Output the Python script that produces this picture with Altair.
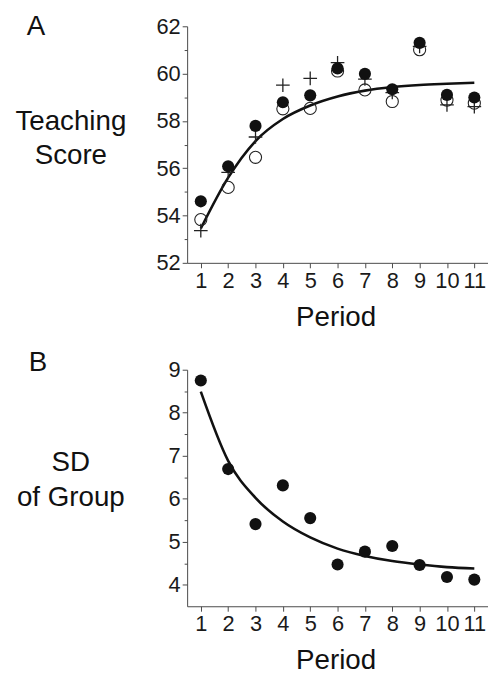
import altair as alt
import pandas as pd

# ---------------- data ----------------
periods = [1, 2, 3, 4, 5, 6, 7, 8, 9, 10, 11]

score_filled = [54.60, 56.08, 57.79, 58.79, 59.08, 60.22, 59.99, 59.34, 61.30, 59.10, 58.99]
score_open = [53.83, 55.19, 56.46, 58.51, 58.53, 60.11, 59.31, 58.82, 61.01, 58.88, 58.75]
score_plus = [53.36, 55.82, 57.32, 59.51, 59.80, 60.46, 59.77, 59.20, 61.15, 58.68, 58.60]
score_fit = [53.45, 55.60, 57.15, 58.08, 58.65, 59.03, 59.28, 59.43, 59.52, 59.57, 59.61]

sd_group = [8.75, 6.69, 5.41, 6.31, 5.55, 4.47, 4.77, 4.90, 4.46, 4.18, 4.12]
sd_fit = [8.49, 6.88, 6.02, 5.47, 5.10, 4.84, 4.67, 4.55, 4.47, 4.41, 4.38]

score_ticks = [52, 54, 56, 58, 60, 62]
score_minor = [53, 55, 57, 59, 61]
sd_ticks = [4, 5, 6, 7, 8, 9]
sd_minor = [4.5, 5.5, 6.5, 7.5, 8.5]

letter_a = ["A"]
letter_b = ["B"]
title_a = ["Teaching", "Score"]
title_b = ["SD", "of Group"]
x_title = "Period"

FONT = "Liberation Sans"
W, H = 304, 239
INK = "#111111"
AXIS_GRAY = "#4a4a4a"
LABEL_SIZE = 22
PLUS_PATH = "M-1,0L1,0M0,-1L0,1"

df_a = pd.DataFrame({
    "period": periods,
    "filled": score_filled,
    "open": score_open,
    "plus": score_plus,
    "fit": score_fit,
})
df_b = pd.DataFrame({"period": periods, "sd": sd_group, "fit": sd_fit})


def x_enc():
    return alt.X(
        "period:Q",
        scale=alt.Scale(domain=[0.5, 11.5], nice=False, zero=False),
        axis=alt.Axis(
            values=periods, format="d", orient="bottom",
            title=x_title, titleX=150, titleY=63,
            titleAlign="center", titleBaseline="alphabetic",
            labelFontSize=LABEL_SIZE, labelFont=FONT,
            labelFlush=False, tickSize=5, labelPadding=3, grid=False,
        ),
    )


def y_main(field, domain, ticks, title, title_y):
    return alt.Y(
        f"{field}:Q",
        scale=alt.Scale(domain=domain, nice=False, zero=False),
        axis=alt.Axis(
            values=ticks, orient="left", format="d",
            title=title, titleAngle=0, titleAlign="center",
            titleBaseline="alphabetic", titleX=-118, titleY=title_y,
            labelFontSize=LABEL_SIZE, labelFont=FONT,
            titleLineHeight=35, tickSize=5, labelPadding=2, grid=False,
        ),
    )


def y_minor(field, domain, minor):
    return alt.Y(
        f"{field}:Q",
        scale=alt.Scale(domain=domain, nice=False, zero=False),
        axis=alt.Axis(
            values=minor, orient="left", labels=False, domain=False,
            tickSize=3, title=None, grid=False,
        ),
    )


def letter_layer(letter, dx, dy):
    return alt.Chart(pd.DataFrame({"letter": letter})).mark_text(
        align="left", baseline="alphabetic", fontSize=28, font=FONT, color=INK
    ).encode(text="letter:N", x=alt.value(dx), y=alt.value(dy))


# ---------------- panel A ----------------
dom_a = [52, 62]
line_a = alt.Chart(df_a).mark_line(
    color=INK, strokeWidth=2.6, interpolate="monotone"
).encode(x=x_enc(), y=y_minor("fit", dom_a, score_minor))

plus_a = alt.Chart(df_a).mark_point(
    shape=PLUS_PATH, size=190, filled=False, stroke="#222222", strokeWidth=1.3, opacity=1
).encode(x=x_enc(), y=y_main("plus", dom_a, score_ticks, title_a, 104))

open_a = alt.Chart(df_a).mark_point(
    shape="circle", size=150, filled=False, stroke="#222222", strokeWidth=1.1, opacity=1
).encode(x=x_enc(), y=y_main("open", dom_a, score_ticks, title_a, 104))

filled_a = alt.Chart(df_a).mark_point(
    shape="circle", size=150, filled=True, color=INK, opacity=1
).encode(x=x_enc(), y=y_main("filled", dom_a, score_ticks, title_a, 104))

panel_a = alt.layer(
    line_a,
    alt.layer(plus_a, open_a, filled_a, letter_layer(letter_a, -162, 9)),
).resolve_axis(y="independent").properties(width=W, height=H)

# ---------------- panel B ----------------
dom_b = [3.5, 9]
line_b = alt.Chart(df_b).mark_line(
    color=INK, strokeWidth=2.6, interpolate="monotone"
).encode(x=x_enc(), y=y_minor("fit", dom_b, sd_minor))

points_b = alt.Chart(df_b).mark_point(
    shape="circle", size=150, filled=True, color=INK, opacity=1
).encode(x=x_enc(), y=y_main("sd", dom_b, sd_ticks, title_b, 102))

panel_b = alt.layer(
    line_b,
    alt.layer(points_b, letter_layer(letter_b, -160, 1)),
).resolve_axis(y="independent").properties(width=W, height=H)

chart = alt.vconcat(panel_a, panel_b, spacing=18).properties(
    padding={"left": 6, "top": 2, "right": 0, "bottom": 0}
).configure_view(stroke=None).configure_axis(
    labelFont=FONT, labelFontSize=LABEL_SIZE, labelColor="#1a1a1a",
    titleFont=FONT, titleFontSize=28, titleFontWeight="normal", titleColor=INK,
    domainColor=AXIS_GRAY, tickColor=AXIS_GRAY, domainWidth=1, tickWidth=1,
)

chart.save("out.html", embed_options={"renderer": "svg", "actions": False})
